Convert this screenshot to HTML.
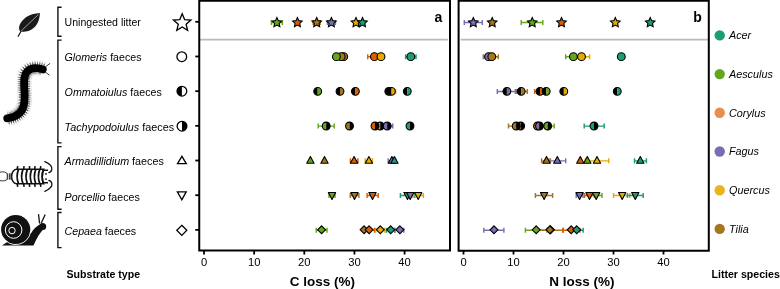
<!DOCTYPE html>
<html><head><meta charset="utf-8"><title>C and N loss</title>
<style>html,body{margin:0;padding:0;background:#fff;width:780px;height:289px;overflow:hidden}
svg{display:block;will-change:transform;shape-rendering:geometricPrecision;font-family:"Liberation Sans",sans-serif}</style></head>
<body>
<svg width="780" height="289" viewBox="0 0 780 289">
<rect width="780" height="289" fill="#fff"/>
<path d="M21.2 31.0 L18.2 36.3" stroke="#1a1a1a" stroke-width="1.25" stroke-linecap="round"/>
<path d="M39.9 13 C36 13.2 29 14.6 24.5 18.4 C21 21.4 18.6 25.6 19.2 29.2 C19.6 31 20.4 31.6 21.4 31.7 C25 32.2 29.5 31.3 33 28.6 C37 25.6 39.6 20.5 39.9 13 Z" fill="#1a1a1a"/>
<path d="M20.9 31.3 L38.4 14.5" stroke="#c8c8c8" stroke-width="0.75"/>
<path d="M42.8 69.4 C38 67.4 31 67.3 27.2 71.5 C23.8 75 24 80 24.2 86 C24.5 93 25.8 101.5 22.8 108.5 C20 114.5 13 118 7.2 118.3" fill="none" stroke="#cfcfcf" stroke-width="15" stroke-dasharray="0.8 1.0"/>
<path d="M42.8 69.4 C38 67.4 31 67.3 27.2 71.5 C23.8 75 24 80 24.2 86 C24.5 93 25.8 101.5 22.8 108.5 C20 114.5 13 118 7.2 118.3" fill="none" stroke="#5a5a5a" stroke-width="11.5" stroke-dasharray="0.8 1.0"/>
<path d="M42.8 69.4 C38 67.4 31 67.3 27.2 71.5 C23.8 75 24 80 24.2 86 C24.5 93 25.8 101.5 22.8 108.5 C20 114.5 13 118 7.2 118.3" fill="none" stroke="#000" stroke-width="7.8" stroke-linecap="round"/>
<path d="M45.2 67 L50.2 63.3 M45 71.8 L49.4 75.2" stroke="#222" stroke-width="0.9"/>
<path d="M7.2 173.8 C6 172.2 3.5 171.2 0 172.2 M7.2 179.2 C6 180.6 3.5 181.4 0 180.6" fill="none" stroke="#333" stroke-width="1"/>
<path d="M7.3 173.4V179.6M9.3 173.4V179.6M11.0 173.2V179.8" stroke="#111" stroke-width="1"/>
<path d="M17.2 169.5L17.7 166.2M17.2 183.5L17.7 186.8" stroke="#111" stroke-width="1.6"/>
<path d="M23.6 169.5L24.1 166.2M23.6 183.5L24.1 186.8" stroke="#111" stroke-width="1.6"/>
<path d="M29.2 169.5L29.7 166.2M29.2 183.5L29.7 186.8" stroke="#111" stroke-width="1.6"/>
<path d="M34.6 169.5L35.1 166.2M34.6 183.5L35.1 186.8" stroke="#111" stroke-width="1.6"/>
<path d="M40.3 169.5L40.8 166.2M40.3 183.5L40.8 186.8" stroke="#111" stroke-width="1.6"/>
<path d="M16.5 169.3 H43.5 C41.8 172 41.8 181 43.5 183.7 H16.5 C13.4 183.7 11.6 180 11.6 176.5 C11.6 173 13.4 169.3 16.5 169.3Z" fill="#fff" stroke="#111" stroke-width="1.5"/>
<path d="M18.4 169.6 Q15.8 176.5 18.4 183.4" fill="none" stroke="#111" stroke-width="1.75"/>
<path d="M22.9 169.6 Q20.3 176.5 22.9 183.4" fill="none" stroke="#111" stroke-width="1.75"/>
<path d="M27.3 169.6 Q24.7 176.5 27.3 183.4" fill="none" stroke="#111" stroke-width="1.75"/>
<path d="M31.6 169.6 Q29.0 176.5 31.6 183.4" fill="none" stroke="#111" stroke-width="1.75"/>
<path d="M35.7 169.6 Q33.1 176.5 35.7 183.4" fill="none" stroke="#111" stroke-width="1.75"/>
<path d="M39.7 169.6 Q37.1 176.5 39.7 183.4" fill="none" stroke="#111" stroke-width="1.75"/>
<path d="M43.5 169.6 Q40.9 176.5 43.5 183.4" fill="none" stroke="#111" stroke-width="1.75"/>
<path d="M43.4 170.2 H48 M43.4 182.8 H48" fill="none" stroke="#111" stroke-width="1.4"/>
<circle cx="46.0" cy="173.9" r="0.95" fill="#111"/><circle cx="46.0" cy="179.1" r="0.95" fill="#111"/>
<path d="M44.4 161.4 C48 163 52.6 166 51.8 169.6 C51.4 171.4 50 172.4 48.4 172.6 M44.4 191.6 C48 190 52.6 187 51.8 183.4 C51.4 181.6 50 180.6 48.4 180.4" fill="none" stroke="#111" stroke-width="1.3"/>
<path d="M2 245.4 L33.6 245.4 C35.2 241.5 37.8 236.5 40.3 233 C41.3 231.6 42.3 230.4 43.2 229.6 L39.4 224.4 C36.4 226.4 33.4 229 31.2 233 L8 241.5 Z" fill="#111"/>
<circle cx="42.7" cy="226.5" r="3.5" fill="#111"/>
<path d="M39.6 223.5 L38.5 214.2 M41.2 223.3 L45.2 214.6" stroke="#111" stroke-width="1.3"/>
<circle cx="15.7" cy="229.5" r="14.6" fill="#111"/>
<path d="M30.65 231.60 A15.1 15.1 0 0 1 2.62 237.05" fill="none" stroke="#fff" stroke-width="0.9"/>
<circle cx="13.6" cy="230.0" r="8.3" fill="none" stroke="#fff" stroke-width="1.0"/>
<circle cx="12.0" cy="230.6" r="3.2" fill="none" stroke="#fff" stroke-width="1.0"/>
<path d="M61.6 7.20H57.9V36.20H61.6" fill="none" stroke="#111" stroke-width="1.4"/>
<path d="M61.6 40.10H57.9V142.90H61.6" fill="none" stroke="#111" stroke-width="1.4"/>
<path d="M61.6 146.60H57.9V209.30H61.6" fill="none" stroke="#111" stroke-width="1.4"/>
<path d="M61.6 212.50H57.9V247.60H61.6" fill="none" stroke="#111" stroke-width="1.4"/>
<text x="64.6" y="26.2" font-size="10.55" font-family="Liberation Sans, sans-serif" fill="#000">Uningested litter</text>
<text x="64.6" y="61.0" font-size="10.65" font-family="Liberation Sans, sans-serif" fill="#000"><tspan font-style="italic">Glomeris</tspan>&#160;faeces</text>
<text x="64.6" y="96.0" font-size="10.66" font-family="Liberation Sans, sans-serif" fill="#000"><tspan font-style="italic">Ommatoiulus</tspan>&#160;faeces</text>
<text x="64.6" y="130.5" font-size="10.8" font-family="Liberation Sans, sans-serif" fill="#000"><tspan font-style="italic">Tachypodoiulus</tspan>&#160;faeces</text>
<text x="64.6" y="164.7" font-size="10.75" font-family="Liberation Sans, sans-serif" fill="#000"><tspan font-style="italic">Armadillidium</tspan>&#160;faeces</text>
<text x="64.6" y="200.5" font-size="10.65" font-family="Liberation Sans, sans-serif" fill="#000"><tspan font-style="italic">Porcellio</tspan>&#160;faeces</text>
<text x="64.6" y="234.8" font-size="10.65" font-family="Liberation Sans, sans-serif" fill="#000"><tspan font-style="italic">Cepaea</tspan>&#160;faeces</text>
<polygon points="182.20,13.70 184.61,19.58 190.95,20.06 186.10,24.17 187.61,30.34 182.20,27.00 176.79,30.34 178.30,24.17 173.45,20.06 179.79,19.58" fill="#fff" stroke="#000" stroke-width="1.3"/>
<circle cx="181.8" cy="56.7" r="4.85" fill="#fff" stroke="#000" stroke-width="1.3"/>
<path d="M181.90 86.35A4.85 4.85 0 0 0 181.90 96.05Z" fill="#000"/>
<circle cx="181.90" cy="91.20" r="4.85" fill="none" stroke="#000" stroke-width="1.3"/>
<path d="M182.00 121.35A4.85 4.85 0 0 1 182.00 131.05Z" fill="#000"/>
<circle cx="182.00" cy="126.20" r="4.85" fill="none" stroke="#000" stroke-width="1.3"/>
<polygon points="181.9,156.3 177.5,163.6 186.3,163.6" fill="#fff" stroke="#000" stroke-width="1.3" stroke-linejoin="miter"/>
<polygon points="181.8,199.8 177.4,191.8 186.2,191.8" fill="#fff" stroke="#000" stroke-width="1.3" stroke-linejoin="miter"/>
<polygon points="181.8,225.3 186.8,230.3 181.8,235.4 176.8,230.3" fill="#fff" stroke="#000" stroke-width="1.3"/>
<path d="M200 39.6H447.8M460.6 39.6H708" stroke="#bababa" stroke-width="1.7"/>
<path d="M199.25 0.75H450V250.6H199.25Z" fill="none" stroke="#000" stroke-width="2"/>
<path d="M458.6 0.75H708.8V250.7H458.6Z" fill="none" stroke="#000" stroke-width="2"/>
<path d="M195.3 21.80H199" stroke="#000" stroke-width="1.8"/>
<path d="M195.3 56.48H199" stroke="#000" stroke-width="1.8"/>
<path d="M195.3 91.16H199" stroke="#000" stroke-width="1.8"/>
<path d="M195.3 125.84H199" stroke="#000" stroke-width="1.8"/>
<path d="M195.3 160.52H199" stroke="#000" stroke-width="1.8"/>
<path d="M195.3 195.20H199" stroke="#000" stroke-width="1.8"/>
<path d="M195.3 229.88H199" stroke="#000" stroke-width="1.8"/>
<path d="M204.00 251H204.00V254.6M463.50 251V254.6" stroke="#000" stroke-width="1.8"/>
<text x="204.00" y="265.8" font-size="11.2" text-anchor="middle" font-family="Liberation Sans, sans-serif" fill="#000">0</text>
<text x="463.50" y="265.8" font-size="11.2" text-anchor="middle" font-family="Liberation Sans, sans-serif" fill="#000">0</text>
<path d="M254.15 251H254.15V254.6M513.50 251V254.6" stroke="#000" stroke-width="1.8"/>
<text x="254.15" y="265.8" font-size="11.2" text-anchor="middle" font-family="Liberation Sans, sans-serif" fill="#000">10</text>
<text x="513.50" y="265.8" font-size="11.2" text-anchor="middle" font-family="Liberation Sans, sans-serif" fill="#000">10</text>
<path d="M304.30 251H304.30V254.6M563.50 251V254.6" stroke="#000" stroke-width="1.8"/>
<text x="304.30" y="265.8" font-size="11.2" text-anchor="middle" font-family="Liberation Sans, sans-serif" fill="#000">20</text>
<text x="563.50" y="265.8" font-size="11.2" text-anchor="middle" font-family="Liberation Sans, sans-serif" fill="#000">20</text>
<path d="M354.45 251H354.45V254.6M613.50 251V254.6" stroke="#000" stroke-width="1.8"/>
<text x="354.45" y="265.8" font-size="11.2" text-anchor="middle" font-family="Liberation Sans, sans-serif" fill="#000">30</text>
<text x="613.50" y="265.8" font-size="11.2" text-anchor="middle" font-family="Liberation Sans, sans-serif" fill="#000">30</text>
<path d="M404.60 251H404.60V254.6M663.50 251V254.6" stroke="#000" stroke-width="1.8"/>
<text x="404.60" y="265.8" font-size="11.2" text-anchor="middle" font-family="Liberation Sans, sans-serif" fill="#000">40</text>
<text x="663.50" y="265.8" font-size="11.2" text-anchor="middle" font-family="Liberation Sans, sans-serif" fill="#000">40</text>
<text x="438.5" y="22.4" font-size="14" font-weight="bold" text-anchor="middle" font-family="Liberation Sans, sans-serif">a</text>
<text x="697.6" y="22.4" font-size="14" font-weight="bold" text-anchor="middle" font-family="Liberation Sans, sans-serif">b</text>
<text x="322.5" y="285.6" font-size="13.5" font-weight="bold" text-anchor="middle" font-family="Liberation Sans, sans-serif">C loss (%)</text>
<text x="582" y="285.6" font-size="13.5" font-weight="bold" text-anchor="middle" font-family="Liberation Sans, sans-serif">N loss (%)</text>
<text x="66.5" y="277.7" font-size="10.6" font-weight="bold" font-family="Liberation Sans, sans-serif">Substrate type</text>
<text x="711.5" y="278" font-size="10.6" font-weight="bold" font-family="Liberation Sans, sans-serif">Litter species</text>
<path d="M271.40 22.40H282.40M271.40 19.90V24.90M282.40 19.90V24.90" stroke="#66A61E" stroke-width="1.45" fill="none"/>
<path d="M313.20 22.40H320.20M313.20 19.90V24.90M320.20 19.90V24.90" stroke="#A6761D" stroke-width="1.45" fill="none"/>
<path d="M327.40 22.40H335.40M327.40 19.90V24.90M335.40 19.90V24.90" stroke="#7570B3" stroke-width="1.45" fill="none"/>
<polygon points="276.90,17.60 278.34,20.62 281.66,21.05 279.23,23.36 279.84,26.65 276.90,25.05 273.96,26.65 274.57,23.36 272.14,21.05 275.46,20.62" fill="#66A61E" stroke="#000" stroke-width="1.10" stroke-linejoin="miter"/>
<polygon points="297.40,17.60 298.84,20.62 302.16,21.05 299.73,23.36 300.34,26.65 297.40,25.05 294.46,26.65 295.07,23.36 292.64,21.05 295.96,20.62" fill="#D95F02" stroke="#000" stroke-width="1.10" stroke-linejoin="miter"/>
<polygon points="316.70,17.60 318.14,20.62 321.46,21.05 319.03,23.36 319.64,26.65 316.70,25.05 313.76,26.65 314.37,23.36 311.94,21.05 315.26,20.62" fill="#A6761D" stroke="#000" stroke-width="1.10" stroke-linejoin="miter"/>
<polygon points="331.40,17.60 332.84,20.62 336.16,21.05 333.73,23.36 334.34,26.65 331.40,25.05 328.46,26.65 329.07,23.36 326.64,21.05 329.96,20.62" fill="#7570B3" stroke="#000" stroke-width="1.10" stroke-linejoin="miter"/>
<polygon points="356.00,17.60 357.44,20.62 360.76,21.05 358.33,23.36 358.94,26.65 356.00,25.05 353.06,26.65 353.67,23.36 351.24,21.05 354.56,20.62" fill="#E6AB02" stroke="#000" stroke-width="1.10" stroke-linejoin="miter"/>
<polygon points="362.50,17.60 363.94,20.62 367.26,21.05 364.83,23.36 365.44,26.65 362.50,25.05 359.56,26.65 360.17,23.36 357.74,21.05 361.06,20.62" fill="#1B9E77" stroke="#000" stroke-width="1.10" stroke-linejoin="miter"/>
<path d="M367.70 56.75H381.00M367.70 54.25V59.25M381.00 54.25V59.25" stroke="#D95F02" stroke-width="1.45" fill="none"/>
<path d="M405.60 56.75H416.00M405.60 54.25V59.25M416.00 54.25V59.25" stroke="#1B9E77" stroke-width="1.45" fill="none"/>
<circle cx="343.70" cy="56.65" r="3.9" fill="#A6761D" stroke="#000" stroke-width="1.10"/>
<circle cx="341.20" cy="56.65" r="3.9" fill="#A6761D" stroke="#000" stroke-width="1.10"/>
<circle cx="336.40" cy="56.65" r="3.9" fill="#66A61E" stroke="#000" stroke-width="1.10"/>
<circle cx="374.40" cy="56.65" r="3.9" fill="#D95F02" stroke="#000" stroke-width="1.10"/>
<circle cx="381.00" cy="56.65" r="3.9" fill="#E6AB02" stroke="#000" stroke-width="1.10"/>
<circle cx="410.80" cy="56.65" r="3.9" fill="#1B9E77" stroke="#000" stroke-width="1.10"/>
<path d="M387.40 91.45H395.60M387.40 88.95V93.95M395.60 88.95V93.95" stroke="#E6AB02" stroke-width="1.45" fill="none"/>
<path d="M317.70 87.45A3.90 3.90 0 0 0 317.70 95.25Z" fill="#000"/><path d="M317.70 87.45A3.90 3.90 0 0 1 317.70 95.25Z" fill="#66A61E"/><circle cx="317.70" cy="91.35" r="3.90" fill="none" stroke="#000" stroke-width="1.10"/>
<path d="M340.00 87.45A3.90 3.90 0 0 0 340.00 95.25Z" fill="#000"/><path d="M340.00 87.45A3.90 3.90 0 0 1 340.00 95.25Z" fill="#A6761D"/><circle cx="340.00" cy="91.35" r="3.90" fill="none" stroke="#000" stroke-width="1.10"/>
<path d="M355.40 87.45A3.90 3.90 0 0 0 355.40 95.25Z" fill="#000"/><path d="M355.40 87.45A3.90 3.90 0 0 1 355.40 95.25Z" fill="#D95F02"/><circle cx="355.40" cy="91.35" r="3.90" fill="none" stroke="#000" stroke-width="1.10"/>
<path d="M388.80 87.45A3.90 3.90 0 0 0 388.80 95.25Z" fill="#000"/><path d="M388.80 87.45A3.90 3.90 0 0 1 388.80 95.25Z" fill="#7570B3"/><circle cx="388.80" cy="91.35" r="3.90" fill="none" stroke="#000" stroke-width="1.10"/>
<path d="M391.40 87.45A3.90 3.90 0 0 0 391.40 95.25Z" fill="#000"/><path d="M391.40 87.45A3.90 3.90 0 0 1 391.40 95.25Z" fill="#E6AB02"/><circle cx="391.40" cy="91.35" r="3.90" fill="none" stroke="#000" stroke-width="1.10"/>
<path d="M407.30 87.45A3.90 3.90 0 0 0 407.30 95.25Z" fill="#000"/><path d="M407.30 87.45A3.90 3.90 0 0 1 407.30 95.25Z" fill="#1B9E77"/><circle cx="407.30" cy="91.35" r="3.90" fill="none" stroke="#000" stroke-width="1.10"/>
<path d="M318.20 126.10H334.20M318.20 123.60V128.60M334.20 123.60V128.60" stroke="#66A61E" stroke-width="1.45" fill="none"/>
<path d="M381.70 126.10H392.70M381.70 123.60V128.60M392.70 123.60V128.60" stroke="#7570B3" stroke-width="1.45" fill="none"/>
<path d="M326.20 122.10A3.90 3.90 0 0 0 326.20 129.90Z" fill="#66A61E"/><path d="M326.20 122.10A3.90 3.90 0 0 1 326.20 129.90Z" fill="#000"/><circle cx="326.20" cy="126.00" r="3.90" fill="none" stroke="#000" stroke-width="1.10"/>
<path d="M349.50 122.10A3.90 3.90 0 0 0 349.50 129.90Z" fill="#A6761D"/><path d="M349.50 122.10A3.90 3.90 0 0 1 349.50 129.90Z" fill="#000"/><circle cx="349.50" cy="126.00" r="3.90" fill="none" stroke="#000" stroke-width="1.10"/>
<path d="M380.20 122.10A3.90 3.90 0 0 0 380.20 129.90Z" fill="#E6AB02"/><path d="M380.20 122.10A3.90 3.90 0 0 1 380.20 129.90Z" fill="#000"/><circle cx="380.20" cy="126.00" r="3.90" fill="none" stroke="#000" stroke-width="1.10"/>
<path d="M375.00 122.10A3.90 3.90 0 0 0 375.00 129.90Z" fill="#D95F02"/><path d="M375.00 122.10A3.90 3.90 0 0 1 375.00 129.90Z" fill="#000"/><circle cx="375.00" cy="126.00" r="3.90" fill="none" stroke="#000" stroke-width="1.10"/>
<path d="M387.20 122.10A3.90 3.90 0 0 0 387.20 129.90Z" fill="#7570B3"/><path d="M387.20 122.10A3.90 3.90 0 0 1 387.20 129.90Z" fill="#000"/><circle cx="387.20" cy="126.00" r="3.90" fill="none" stroke="#000" stroke-width="1.10"/>
<path d="M410.00 122.10A3.90 3.90 0 0 0 410.00 129.90Z" fill="#1B9E77"/><path d="M410.00 122.10A3.90 3.90 0 0 1 410.00 129.90Z" fill="#000"/><circle cx="410.00" cy="126.00" r="3.90" fill="none" stroke="#000" stroke-width="1.10"/>
<path d="M350.40 160.85H357.90M350.40 158.35V163.35M357.90 158.35V163.35" stroke="#D95F02" stroke-width="1.45" fill="none"/>
<path d="M365.20 160.85H372.50M365.20 158.35V163.35M372.50 158.35V163.35" stroke="#E6AB02" stroke-width="1.45" fill="none"/>
<path d="M388.20 160.85H395.60M388.20 158.35V163.35M395.60 158.35V163.35" stroke="#7570B3" stroke-width="1.45" fill="none"/>
<polygon points="310.40,156.55 306.75,163.25 314.05,163.25" fill="#66A61E" stroke="#000" stroke-width="1.10" stroke-linejoin="round"/>
<polygon points="324.50,156.55 320.85,163.25 328.15,163.25" fill="#A6761D" stroke="#000" stroke-width="1.10" stroke-linejoin="round"/>
<polygon points="354.10,156.55 350.45,163.25 357.75,163.25" fill="#D95F02" stroke="#000" stroke-width="1.10" stroke-linejoin="round"/>
<polygon points="368.90,156.55 365.25,163.25 372.55,163.25" fill="#E6AB02" stroke="#000" stroke-width="1.10" stroke-linejoin="round"/>
<polygon points="391.90,156.55 388.25,163.25 395.55,163.25" fill="#7570B3" stroke="#000" stroke-width="1.10" stroke-linejoin="round"/>
<polygon points="394.40,156.55 390.75,163.25 398.05,163.25" fill="#1B9E77" stroke="#000" stroke-width="1.10" stroke-linejoin="round"/>
<path d="M329.00 195.45H335.00M329.00 192.95V197.95M335.00 192.95V197.95" stroke="#66A61E" stroke-width="1.45" fill="none"/>
<path d="M350.30 195.45H358.90M350.30 192.95V197.95M358.90 192.95V197.95" stroke="#A6761D" stroke-width="1.45" fill="none"/>
<path d="M367.10 195.45H378.20M367.10 192.95V197.95M378.20 192.95V197.95" stroke="#D95F02" stroke-width="1.45" fill="none"/>
<path d="M400.40 195.45H414.80M400.40 192.95V197.95M414.80 192.95V197.95" stroke="#1B9E77" stroke-width="1.45" fill="none"/>
<path d="M413.00 195.45H423.40M413.00 192.95V197.95M423.40 192.95V197.95" stroke="#E6AB02" stroke-width="1.45" fill="none"/>
<polygon points="332.00,199.45 328.35,192.50 335.65,192.50" fill="#66A61E" stroke="#000" stroke-width="1.10" stroke-linejoin="round"/>
<polygon points="354.50,199.45 350.85,192.50 358.15,192.50" fill="#A6761D" stroke="#000" stroke-width="1.10" stroke-linejoin="round"/>
<polygon points="372.50,199.45 368.85,192.50 376.15,192.50" fill="#D95F02" stroke="#000" stroke-width="1.10" stroke-linejoin="round"/>
<polygon points="407.50,199.45 403.85,192.50 411.15,192.50" fill="#1B9E77" stroke="#000" stroke-width="1.10" stroke-linejoin="round"/>
<polygon points="410.20,199.45 406.55,192.50 413.85,192.50" fill="#7570B3" stroke="#000" stroke-width="1.10" stroke-linejoin="round"/>
<polygon points="418.20,199.45 414.55,192.50 421.85,192.50" fill="#E6AB02" stroke="#000" stroke-width="1.10" stroke-linejoin="round"/>
<path d="M316.20 230.30H327.00M316.20 227.80V232.80M327.00 227.80V232.80" stroke="#66A61E" stroke-width="1.45" fill="none"/>
<path d="M363.70 230.30H374.50M363.70 227.80V232.80M374.50 227.80V232.80" stroke="#D95F02" stroke-width="1.45" fill="none"/>
<path d="M375.70 230.30H384.90M375.70 227.80V232.80M384.90 227.80V232.80" stroke="#E6AB02" stroke-width="1.45" fill="none"/>
<path d="M386.60 230.30H394.80M386.60 227.80V232.80M394.80 227.80V232.80" stroke="#1B9E77" stroke-width="1.45" fill="none"/>
<path d="M394.90 230.30H403.80M394.90 227.80V232.80M403.80 227.80V232.80" stroke="#7570B3" stroke-width="1.45" fill="none"/>
<polygon points="321.60,225.85 325.55,229.80 321.60,233.75 317.65,229.80" fill="#66A61E" stroke="#000" stroke-width="1.10"/>
<polygon points="364.10,225.85 368.05,229.80 364.10,233.75 360.15,229.80" fill="#A6761D" stroke="#000" stroke-width="1.10"/>
<polygon points="369.10,225.85 373.05,229.80 369.10,233.75 365.15,229.80" fill="#D95F02" stroke="#000" stroke-width="1.10"/>
<polygon points="380.30,225.85 384.25,229.80 380.30,233.75 376.35,229.80" fill="#E6AB02" stroke="#000" stroke-width="1.10"/>
<polygon points="390.70,225.85 394.65,229.80 390.70,233.75 386.75,229.80" fill="#1B9E77" stroke="#000" stroke-width="1.10"/>
<polygon points="399.90,225.85 403.85,229.80 399.90,233.75 395.95,229.80" fill="#7570B3" stroke="#000" stroke-width="1.10"/>
<path d="M464.30 22.40H482.30M464.30 19.90V24.90M482.30 19.90V24.90" stroke="#7570B3" stroke-width="1.45" fill="none"/>
<path d="M521.20 22.40H542.80M521.20 19.90V24.90M542.80 19.90V24.90" stroke="#66A61E" stroke-width="1.45" fill="none"/>
<polygon points="473.30,17.60 474.74,20.62 478.06,21.05 475.63,23.36 476.24,26.65 473.30,25.05 470.36,26.65 470.97,23.36 468.54,21.05 471.86,20.62" fill="#7570B3" stroke="#000" stroke-width="1.10" stroke-linejoin="miter"/>
<polygon points="492.20,17.60 493.64,20.62 496.96,21.05 494.53,23.36 495.14,26.65 492.20,25.05 489.26,26.65 489.87,23.36 487.44,21.05 490.76,20.62" fill="#A6761D" stroke="#000" stroke-width="1.10" stroke-linejoin="miter"/>
<polygon points="532.20,17.60 533.64,20.62 536.96,21.05 534.53,23.36 535.14,26.65 532.20,25.05 529.26,26.65 529.87,23.36 527.44,21.05 530.76,20.62" fill="#66A61E" stroke="#000" stroke-width="1.10" stroke-linejoin="miter"/>
<polygon points="561.50,17.60 562.94,20.62 566.26,21.05 563.83,23.36 564.44,26.65 561.50,25.05 558.56,26.65 559.17,23.36 556.74,21.05 560.06,20.62" fill="#D95F02" stroke="#000" stroke-width="1.10" stroke-linejoin="miter"/>
<polygon points="615.30,17.60 616.74,20.62 620.06,21.05 617.63,23.36 618.24,26.65 615.30,25.05 612.36,26.65 612.97,23.36 610.54,21.05 613.86,20.62" fill="#E6AB02" stroke="#000" stroke-width="1.10" stroke-linejoin="miter"/>
<polygon points="650.20,17.60 651.64,20.62 654.96,21.05 652.53,23.36 653.14,26.65 650.20,25.05 647.26,26.65 647.87,23.36 645.44,21.05 648.76,20.62" fill="#1B9E77" stroke="#000" stroke-width="1.10" stroke-linejoin="miter"/>
<path d="M483.30 56.75H493.90M483.30 54.25V59.25M493.90 54.25V59.25" stroke="#7570B3" stroke-width="1.45" fill="none"/>
<path d="M485.30 56.75H498.30M485.30 54.25V59.25M498.30 54.25V59.25" stroke="#A6761D" stroke-width="1.45" fill="none"/>
<path d="M565.70 56.75H581.10M565.70 54.25V59.25M581.10 54.25V59.25" stroke="#66A61E" stroke-width="1.45" fill="none"/>
<path d="M573.40 56.75H589.60M573.40 54.25V59.25M589.60 54.25V59.25" stroke="#E6AB02" stroke-width="1.45" fill="none"/>
<circle cx="488.60" cy="56.65" r="3.9" fill="#7570B3" stroke="#000" stroke-width="1.10"/>
<circle cx="491.80" cy="56.65" r="3.9" fill="#A6761D" stroke="#000" stroke-width="1.10"/>
<circle cx="573.40" cy="56.65" r="3.9" fill="#66A61E" stroke="#000" stroke-width="1.10"/>
<circle cx="581.50" cy="56.65" r="3.9" fill="#E6AB02" stroke="#000" stroke-width="1.10"/>
<circle cx="621.30" cy="56.65" r="3.9" fill="#1B9E77" stroke="#000" stroke-width="1.10"/>
<path d="M497.30 91.45H516.50M497.30 88.95V93.95M516.50 88.95V93.95" stroke="#7570B3" stroke-width="1.45" fill="none"/>
<path d="M515.40 91.45H527.30M515.40 88.95V93.95M527.30 88.95V93.95" stroke="#A6761D" stroke-width="1.45" fill="none"/>
<path d="M534.60 91.45H545.40M534.60 88.95V93.95M545.40 88.95V93.95" stroke="#D95F02" stroke-width="1.45" fill="none"/>
<path d="M506.90 87.45A3.90 3.90 0 0 0 506.90 95.25Z" fill="#000"/><path d="M506.90 87.45A3.90 3.90 0 0 1 506.90 95.25Z" fill="#7570B3"/><circle cx="506.90" cy="91.35" r="3.90" fill="none" stroke="#000" stroke-width="1.10"/>
<path d="M521.20 87.45A3.90 3.90 0 0 0 521.20 95.25Z" fill="#000"/><path d="M521.20 87.45A3.90 3.90 0 0 1 521.20 95.25Z" fill="#A6761D"/><circle cx="521.20" cy="91.35" r="3.90" fill="none" stroke="#000" stroke-width="1.10"/>
<path d="M540.00 87.45A3.90 3.90 0 0 0 540.00 95.25Z" fill="#000"/><path d="M540.00 87.45A3.90 3.90 0 0 1 540.00 95.25Z" fill="#D95F02"/><circle cx="540.00" cy="91.35" r="3.90" fill="none" stroke="#000" stroke-width="1.10"/>
<path d="M546.20 87.45A3.90 3.90 0 0 0 546.20 95.25Z" fill="#000"/><path d="M546.20 87.45A3.90 3.90 0 0 1 546.20 95.25Z" fill="#66A61E"/><circle cx="546.20" cy="91.35" r="3.90" fill="none" stroke="#000" stroke-width="1.10"/>
<path d="M563.80 87.45A3.90 3.90 0 0 0 563.80 95.25Z" fill="#000"/><path d="M563.80 87.45A3.90 3.90 0 0 1 563.80 95.25Z" fill="#E6AB02"/><circle cx="563.80" cy="91.35" r="3.90" fill="none" stroke="#000" stroke-width="1.10"/>
<path d="M617.30 87.45A3.90 3.90 0 0 0 617.30 95.25Z" fill="#000"/><path d="M617.30 87.45A3.90 3.90 0 0 1 617.30 95.25Z" fill="#1B9E77"/><circle cx="617.30" cy="91.35" r="3.90" fill="none" stroke="#000" stroke-width="1.10"/>
<path d="M508.50 126.10H523.90M508.50 123.60V128.60M523.90 123.60V128.60" stroke="#A6761D" stroke-width="1.45" fill="none"/>
<path d="M541.20 126.10H554.20M541.20 123.60V128.60M554.20 123.60V128.60" stroke="#66A61E" stroke-width="1.45" fill="none"/>
<path d="M584.20 126.10H604.20M584.20 123.60V128.60M604.20 123.60V128.60" stroke="#1B9E77" stroke-width="1.45" fill="none"/>
<path d="M520.60 122.10A3.90 3.90 0 0 0 520.60 129.90Z" fill="#A6761D"/><path d="M520.60 122.10A3.90 3.90 0 0 1 520.60 129.90Z" fill="#000"/><circle cx="520.60" cy="126.00" r="3.90" fill="none" stroke="#000" stroke-width="1.10"/>
<path d="M516.20 122.10A3.90 3.90 0 0 0 516.20 129.90Z" fill="#A6761D"/><path d="M516.20 122.10A3.90 3.90 0 0 1 516.20 129.90Z" fill="#000"/><circle cx="516.20" cy="126.00" r="3.90" fill="none" stroke="#000" stroke-width="1.10"/>
<path d="M537.50 122.10A3.90 3.90 0 0 0 537.50 129.90Z" fill="#D95F02"/><path d="M537.50 122.10A3.90 3.90 0 0 1 537.50 129.90Z" fill="#000"/><circle cx="537.50" cy="126.00" r="3.90" fill="none" stroke="#000" stroke-width="1.10"/>
<path d="M539.50 122.10A3.90 3.90 0 0 0 539.50 129.90Z" fill="#7570B3"/><path d="M539.50 122.10A3.90 3.90 0 0 1 539.50 129.90Z" fill="#000"/><circle cx="539.50" cy="126.00" r="3.90" fill="none" stroke="#000" stroke-width="1.10"/>
<path d="M547.70 122.10A3.90 3.90 0 0 0 547.70 129.90Z" fill="#66A61E"/><path d="M547.70 122.10A3.90 3.90 0 0 1 547.70 129.90Z" fill="#000"/><circle cx="547.70" cy="126.00" r="3.90" fill="none" stroke="#000" stroke-width="1.10"/>
<path d="M594.00 122.10A3.90 3.90 0 0 0 594.00 129.90Z" fill="#1B9E77"/><path d="M594.00 122.10A3.90 3.90 0 0 1 594.00 129.90Z" fill="#000"/><circle cx="594.00" cy="126.00" r="3.90" fill="none" stroke="#000" stroke-width="1.10"/>
<path d="M541.60 160.85H550.40M541.60 158.35V163.35M550.40 158.35V163.35" stroke="#A6761D" stroke-width="1.45" fill="none"/>
<path d="M548.90 160.85H565.70M548.90 158.35V163.35M565.70 158.35V163.35" stroke="#7570B3" stroke-width="1.45" fill="none"/>
<path d="M585.30 160.85H608.70M585.30 158.35V163.35M608.70 158.35V163.35" stroke="#E6AB02" stroke-width="1.45" fill="none"/>
<path d="M634.50 160.85H646.40M634.50 158.35V163.35M646.40 158.35V163.35" stroke="#1B9E77" stroke-width="1.45" fill="none"/>
<polygon points="546.50,156.55 542.85,163.25 550.15,163.25" fill="#A6761D" stroke="#000" stroke-width="1.10" stroke-linejoin="round"/>
<polygon points="557.30,156.55 553.65,163.25 560.95,163.25" fill="#7570B3" stroke="#000" stroke-width="1.10" stroke-linejoin="round"/>
<polygon points="580.30,156.55 576.65,163.25 583.95,163.25" fill="#D95F02" stroke="#000" stroke-width="1.10" stroke-linejoin="round"/>
<polygon points="597.00,156.55 593.35,163.25 600.65,163.25" fill="#E6AB02" stroke="#000" stroke-width="1.10" stroke-linejoin="round"/>
<polygon points="587.30,156.55 583.65,163.25 590.95,163.25" fill="#66A61E" stroke="#000" stroke-width="1.10" stroke-linejoin="round"/>
<polygon points="640.30,156.55 636.65,163.25 643.95,163.25" fill="#1B9E77" stroke="#000" stroke-width="1.10" stroke-linejoin="round"/>
<path d="M535.40 195.45H552.60M535.40 192.95V197.95M552.60 192.95V197.95" stroke="#A6761D" stroke-width="1.45" fill="none"/>
<path d="M576.20 195.45H583.00M576.20 192.95V197.95M583.00 192.95V197.95" stroke="#7570B3" stroke-width="1.45" fill="none"/>
<path d="M584.50 195.45H594.50M584.50 192.95V197.95M594.50 192.95V197.95" stroke="#D95F02" stroke-width="1.45" fill="none"/>
<path d="M590.40 195.45H602.00M590.40 192.95V197.95M602.00 192.95V197.95" stroke="#66A61E" stroke-width="1.45" fill="none"/>
<path d="M613.50 195.45H629.80M613.50 192.95V197.95M629.80 192.95V197.95" stroke="#E6AB02" stroke-width="1.45" fill="none"/>
<path d="M627.40 195.45H643.20M627.40 192.95V197.95M643.20 192.95V197.95" stroke="#1B9E77" stroke-width="1.45" fill="none"/>
<polygon points="544.10,199.45 540.45,192.50 547.75,192.50" fill="#A6761D" stroke="#000" stroke-width="1.10" stroke-linejoin="round"/>
<polygon points="579.60,199.45 575.95,192.50 583.25,192.50" fill="#7570B3" stroke="#000" stroke-width="1.10" stroke-linejoin="round"/>
<polygon points="589.50,199.45 585.85,192.50 593.15,192.50" fill="#D95F02" stroke="#000" stroke-width="1.10" stroke-linejoin="round"/>
<polygon points="596.20,199.45 592.55,192.50 599.85,192.50" fill="#66A61E" stroke="#000" stroke-width="1.10" stroke-linejoin="round"/>
<polygon points="622.20,199.45 618.55,192.50 625.85,192.50" fill="#E6AB02" stroke="#000" stroke-width="1.10" stroke-linejoin="round"/>
<polygon points="635.30,199.45 631.65,192.50 638.95,192.50" fill="#1B9E77" stroke="#000" stroke-width="1.10" stroke-linejoin="round"/>
<path d="M483.80 230.30H503.90M483.80 227.80V232.80M503.90 227.80V232.80" stroke="#7570B3" stroke-width="1.45" fill="none"/>
<path d="M525.40 230.30H547.00M525.40 227.80V232.80M547.00 227.80V232.80" stroke="#66A61E" stroke-width="1.45" fill="none"/>
<path d="M536.60 230.30H563.20M536.60 227.80V232.80M563.20 227.80V232.80" stroke="#A6761D" stroke-width="1.45" fill="none"/>
<path d="M562.90 230.30H579.90M562.90 227.80V232.80M579.90 227.80V232.80" stroke="#D95F02" stroke-width="1.45" fill="none"/>
<path d="M570.20 230.30H583.20M570.20 227.80V232.80M583.20 227.80V232.80" stroke="#1B9E77" stroke-width="1.45" fill="none"/>
<polygon points="494.00,225.85 497.95,229.80 494.00,233.75 490.05,229.80" fill="#7570B3" stroke="#000" stroke-width="1.10"/>
<polygon points="536.20,225.85 540.15,229.80 536.20,233.75 532.25,229.80" fill="#66A61E" stroke="#000" stroke-width="1.10"/>
<polygon points="550.50,225.85 554.45,229.80 550.50,233.75 546.55,229.80" fill="#E6AB02" stroke="#000" stroke-width="1.10"/>
<polygon points="549.90,225.85 553.85,229.80 549.90,233.75 545.95,229.80" fill="#A6761D" stroke="#000" stroke-width="1.10"/>
<polygon points="571.20,225.85 575.15,229.80 571.20,233.75 567.25,229.80" fill="#D95F02" stroke="#000" stroke-width="1.10"/>
<polygon points="576.70,225.85 580.65,229.80 576.70,233.75 572.75,229.80" fill="#1B9E77" stroke="#000" stroke-width="1.10"/>
<circle cx="719.7" cy="35.40" r="5.2" fill="#1B9E77"/>
<text x="729" y="39.10" font-size="10.8" font-style="italic" font-family="Liberation Sans, sans-serif" fill="#000">Acer</text>
<circle cx="719.7" cy="74.10" r="5.2" fill="#66A61E"/>
<text x="729" y="77.80" font-size="10.8" font-style="italic" font-family="Liberation Sans, sans-serif" fill="#000">Aesculus</text>
<circle cx="719.7" cy="112.80" r="5.2" fill="#E68E4E"/>
<text x="729" y="116.50" font-size="10.8" font-style="italic" font-family="Liberation Sans, sans-serif" fill="#000">Corylus</text>
<circle cx="719.7" cy="151.50" r="5.2" fill="#7570B3"/>
<text x="729" y="155.20" font-size="10.8" font-style="italic" font-family="Liberation Sans, sans-serif" fill="#000">Fagus</text>
<circle cx="719.7" cy="190.20" r="5.2" fill="#EAB21E"/>
<text x="729" y="193.90" font-size="10.8" font-style="italic" font-family="Liberation Sans, sans-serif" fill="#000">Quercus</text>
<circle cx="719.7" cy="228.90" r="5.2" fill="#A6761D"/>
<text x="729" y="232.60" font-size="10.8" font-style="italic" font-family="Liberation Sans, sans-serif" fill="#000">Tilia</text>
</svg>
</body></html>
